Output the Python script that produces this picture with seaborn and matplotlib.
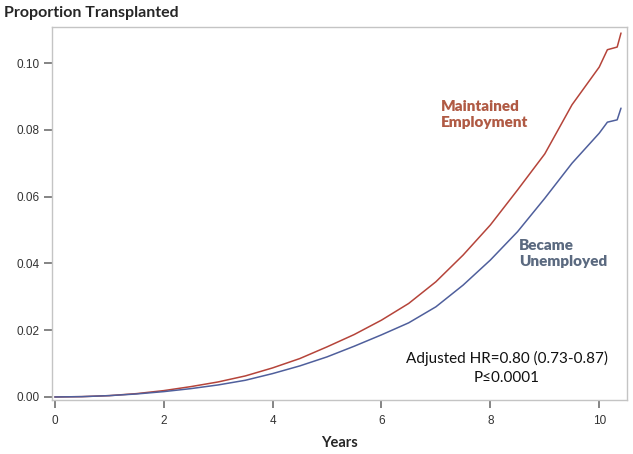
import numpy as np
import pandas as pd
import matplotlib
matplotlib.use("Agg")
import matplotlib.pyplot as plt
import seaborn as sns

# cumulative proportion transplanted
years = [0, 0.5, 1, 1.5, 2, 2.5, 3, 3.5, 4, 4.5, 5, 5.5, 6, 6.5, 7, 7.5,
         8, 8.5, 9, 9.5, 10, 10.15, 10.33, 10.4]
maintained = [0, 0.0001, 0.0004, 0.0010, 0.0019, 0.0031, 0.0045, 0.0063,
              0.0087, 0.0115, 0.0150, 0.0187, 0.0230, 0.0280, 0.0345, 0.0425,
              0.0515, 0.0620, 0.0728, 0.0875, 0.0988, 0.1040, 0.1048, 0.1090]
unemployed = [0, 0.0001, 0.0004, 0.0009, 0.0016, 0.0025, 0.0036, 0.0050,
              0.0070, 0.0093, 0.0120, 0.0152, 0.0186, 0.0222, 0.0270, 0.0335,
              0.0410, 0.0495, 0.0595, 0.0700, 0.0790, 0.0823, 0.0830, 0.0865]
groups = ["Maintained Employment", "Became Unemployed"]
x_ticks = [0, 2, 4, 6, 8, 10]
y_ticks = [0.00, 0.02, 0.04, 0.06, 0.08, 0.10]

df = pd.concat([
    pd.DataFrame({"Years": years, "prop": maintained, "group": groups[0]}),
    pd.DataFrame({"Years": years, "prop": unemployed, "group": groups[1]}),
])

sns.set_style("white", {"xtick.bottom": True, "ytick.left": True})
plt.rcParams["font.family"] = ["Liberation Sans", "DejaVu Sans"]

fig = plt.figure(figsize=(6.33, 4.54), dpi=100)
ax = fig.add_axes([0.0822, 0.119, 0.9083, 0.8215])

palette = {groups[0]: "#b5443a", groups[1]: "#4f5f9c"}
sns.lineplot(data=df, x="Years", y="prop", hue="group", palette=palette,
             linewidth=1.1, legend=False, ax=ax)

ax.set_xlim(-0.05, 10.51)
ax.set_ylim(-0.0009, 0.1108)
ax.set_xticks(x_ticks)
ax.set_xticklabels([str(t) for t in x_ticks])
ax.set_yticks(y_ticks)
ax.set_yticklabels([f"{t:.2f}" for t in y_ticks])
ax.xaxis.set_tick_params(which="major", bottom=True, direction="out",
                         length=6, width=1.2, color="#707070",
                         labelsize=8.5, labelcolor="#333333", pad=5)
ax.yaxis.set_tick_params(which="major", left=True, direction="out",
                         length=6, width=1.2, color="#707070",
                         labelsize=8.5, labelcolor="#333333", pad=3)
for sp in ax.spines.values():
    sp.set_color("#c4c4c4")
    sp.set_linewidth(1.0)

ax.set_xlabel("Years", fontsize=10.5, fontweight="bold", family="Lato",
              labelpad=6)
ax.set_ylabel("")
fig.text(0.006, 0.972, "Proportion Transplanted", fontsize=11.5,
         fontweight="bold", family="Lato", ha="left", va="center")

# annotations
ax.text(7.1, 0.0846, "Maintained\nEmployment", color="#b05a44", fontsize=11,
        fontweight="heavy", family="Lato", ha="left", va="center",
        linespacing=1.25)
ax.text(8.52, 0.0430, "Became\nUnemployed", color="#5b6a80", fontsize=11,
        fontweight="heavy", family="Lato", ha="left", va="center",
        linespacing=1.25)
ax.text(8.3, 0.0087, "Adjusted HR=0.80 (0.73-0.87)\nP\u22640.0001",
        color="#111111", fontsize=11, family="Lato", ha="center",
        va="center", linespacing=1.5)

fig.savefig("out.png", dpi=100)
